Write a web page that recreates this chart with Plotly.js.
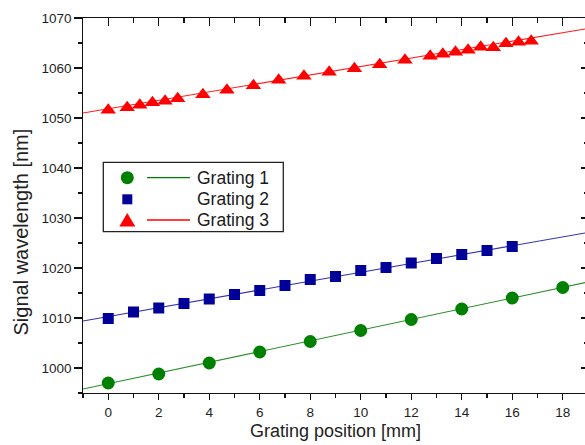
<!DOCTYPE html>
<html>
<head>
<meta charset="utf-8">
<script src="https://cdn.plot.ly/plotly-3.0.1.min.js"></script>
<style>html,body{margin:0;padding:0;overflow:hidden;background:#fff;}#chart{width:590px;height:445px;}</style>
</head>
<body>
<div id="chart"></div>
<script>
// Data
const xG1 = [0, 2, 4, 6, 8, 10, 12, 14, 16, 18];
const yG1 = [997.0, 998.8, 1001.0, 1003.2, 1005.3, 1007.5, 1009.7, 1011.8, 1014.0, 1016.1];
const xG2 = [0, 1, 2, 3, 4, 5, 6, 7, 8, 9, 10, 11, 12, 13, 14, 15, 16];
const yG2 = [1009.9, 1011.2, 1012.0, 1012.9, 1013.8, 1014.7, 1015.5, 1016.5, 1017.7, 1018.3, 1019.5, 1020.1, 1021.0, 1021.9, 1022.7, 1023.5, 1024.3];
const xG3 = [0, 0.75, 1.25, 1.75, 2.25, 2.75, 3.75, 4.7, 5.75, 6.75, 7.75, 8.75, 9.75, 10.75, 11.75, 12.75, 13.25, 13.75, 14.25, 14.75, 15.25, 15.75, 16.25, 16.75];
const yG3 = [1051.6, 1052.1, 1052.6, 1053.1, 1053.4, 1053.9, 1054.7, 1055.6, 1056.5, 1057.6, 1058.4, 1059.2, 1059.9, 1060.7, 1061.6, 1062.4, 1062.8, 1063.2, 1063.6, 1064.2, 1064.1, 1064.9, 1065.2, 1065.4];
// linear fit lines (end points)
const fitX = [-1, 19];
const fitG1 = [995.8, 1017.2];
const fitG2 = [1009.4, 1027.1];
const fitG3 = [1051.0, 1067.9];
const seriesNames = ['Grating 1', 'Grating 2', 'Grating 3'];
const xTitle = 'Grating position [mm]';
const yTitle = 'Signal wavelength [nm]';

const GREEN = '#008000', BLUE = '#000099', RED = '#ff0000';
const FONT = 'Liberation Sans, Arial, sans-serif';

// plot area geometry (pixels)
const W = 590, H = 445, ML = 83, MR = 2, MT = 18, MB = 52;
const PW = W - ML - MR, PH = H - MT - MB;
const px = v => (v - ML) / PW;
const py = v => (H - MB - v) / PH;

const traces = [
  {x: fitX, y: fitG1, mode: 'lines', line: {color: '#2a8f2a', width: 1.1}, showlegend: false, hoverinfo: 'skip'},
  {x: fitX, y: fitG2, mode: 'lines', line: {color: '#3333b0', width: 1.1}, showlegend: false, hoverinfo: 'skip'},
  {x: fitX, y: fitG3, mode: 'lines', line: {color: '#ff2020', width: 1.1}, showlegend: false, hoverinfo: 'skip'},
  {x: xG1, y: yG1, name: seriesNames[0], mode: 'markers', xaxis: 'x2', yaxis: 'y2', marker: {symbol: 'circle', size: 13, color: GREEN}},
  {x: xG2, y: yG2, name: seriesNames[1], mode: 'markers', xaxis: 'x2', yaxis: 'y2', marker: {symbol: 'square', size: 11, color: BLUE}},
  {x: xG3, y: yG3, name: seriesNames[2], mode: 'markers', xaxis: 'x2', yaxis: 'y2', marker: {symbol: 'triangle-up', size: 13.5, color: RED}}
];

const axBase = {showgrid: false, zeroline: false, showline: true, linecolor: '#111', linewidth: 1.3,
  tickcolor: '#111', tickwidth: 1.3, tickfont: {family: FONT, size: 13.5, color: '#1e1e1e'}};

// legend drawn with shapes + annotations
const lg = {x0: 103.3, x1: 283.3, y0: 162.3, y1: 231.7, mx: 127.3, lx0: 147, lx1: 190, tx: 195, rows: [177.7, 199.3, 220]};
const shapes = [
  {type: 'rect', xref: 'paper', yref: 'paper', x0: px(lg.x0), x1: px(lg.x1), y0: py(lg.y1), y1: py(lg.y0), line: {color: '#222', width: 1.3}, fillcolor: 'rgba(255,255,255,1)', layer: 'above'},
  {type: 'circle', xref: 'paper', yref: 'paper', x0: px(lg.mx - 6.5), x1: px(lg.mx + 6.5), y0: py(lg.rows[0] + 6.5), y1: py(lg.rows[0] - 6.5), line: {width: 0}, fillcolor: GREEN, layer: 'above'},
  {type: 'rect', xref: 'paper', yref: 'paper', x0: px(lg.mx - 5), x1: px(lg.mx + 5), y0: py(lg.rows[1] + 5), y1: py(lg.rows[1] - 5), line: {width: 0}, fillcolor: BLUE, layer: 'above'},
  {type: 'path', xref: 'paper', yref: 'paper',
   path: 'M ' + px(lg.mx - 8) + ' ' + py(lg.rows[2] + 6.5) + ' L ' + px(lg.mx + 8) + ' ' + py(lg.rows[2] + 6.5) + ' L ' + px(lg.mx) + ' ' + py(lg.rows[2] - 7) + ' Z',
   line: {width: 0}, fillcolor: RED, layer: 'above'},
  {type: 'line', xref: 'paper', yref: 'paper', x0: px(lg.lx0), x1: px(lg.lx1), y0: py(lg.rows[0]), y1: py(lg.rows[0]), line: {color: GREEN, width: 1.3}, layer: 'above'},
  {type: 'line', xref: 'paper', yref: 'paper', x0: px(lg.lx0), x1: px(lg.lx1), y0: py(lg.rows[2]), y1: py(lg.rows[2]), line: {color: RED, width: 1.3}, layer: 'above'}
];
const annotations = seriesNames.map((n, i) => ({
  text: n, xref: 'paper', yref: 'paper', x: px(lg.tx), y: py(lg.rows[i]), xanchor: 'left', yanchor: 'middle',
  showarrow: false, font: {family: FONT, size: 17.5, color: '#1a1a1a'}
}));
annotations.push({text: yTitle, xref: 'paper', yref: 'paper', x: px(20.5), y: py(232), xanchor: 'center', yanchor: 'middle',
  textangle: -90, showarrow: false, font: {family: FONT, size: 20, color: '#222'}});

const layout = {
  width: W, height: H,
  margin: {l: ML, r: MR, t: MT, b: MB, pad: 0},
  paper_bgcolor: '#fff', plot_bgcolor: '#fff',
  showlegend: false,
  xaxis: Object.assign({}, axBase, {range: [-1, 19], tick0: 0, dtick: 2, ticks: 'outside', ticklen: 6,
    minor: {dtick: 1, tick0: -1, ticks: 'outside', ticklen: 3.5, tickcolor: '#111', tickwidth: 1.3},
    title: {text: xTitle, font: {family: FONT, size: 18, color: '#222'}, standoff: 6}, automargin: false}),
  yaxis: Object.assign({}, axBase, {range: [995, 1070], tick0: 1000, dtick: 10, ticks: 'outside', ticklen: 7.5,
    minor: {dtick: 5, tick0: 995, ticks: 'outside', ticklen: 4, tickcolor: '#111', tickwidth: 1.3}, automargin: false}),
  xaxis2: Object.assign({}, axBase, {range: [-1, 19], overlaying: 'x', side: 'top', anchor: 'y2', tick0: 0, dtick: 2,
    ticks: 'inside', ticklen: 7.5, showticklabels: false,
    minor: {dtick: 1, tick0: -1, ticks: 'inside', ticklen: 5, tickcolor: '#111', tickwidth: 1.3}}),
  yaxis2: Object.assign({}, axBase, {range: [995, 1070], overlaying: 'y', side: 'right', anchor: 'x2', tick0: 1000, dtick: 10,
    ticks: 'inside', ticklen: 7, showticklabels: false,
    minor: {dtick: 5, tick0: 995, ticks: 'inside', ticklen: 4, tickcolor: '#111', tickwidth: 1.3}}),
  shapes: shapes,
  annotations: annotations
};

Plotly.newPlot('chart', traces, layout, {displayModeBar: false, staticPlot: true});
</script>
</body>
</html>
